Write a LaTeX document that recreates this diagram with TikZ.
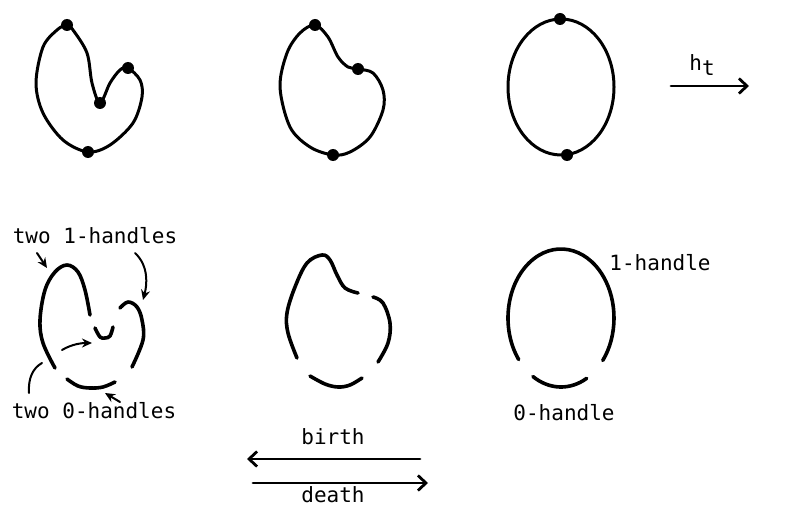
\documentclass[tikz,border=0pt]{standalone}
\usepackage{fontspec}
\setmonofont{DejaVu Sans Mono}
\usetikzlibrary{arrows.meta}
\begin{document}
\begin{tikzpicture}[x=1pt, y=-1pt, line cap=round, line join=round,
  every node/.style={font=\fontsize{21}{25}\selectfont\ttfamily, inner sep=0pt},
  curve/.style={line width=3pt},
  piece/.style={line width=3.6pt},
  pointer/.style={line width=2pt, -{Stealth[length=10pt,width=9pt]}},
  flow/.style={line width=2.8pt, -{Straight Barb[length=8pt,width=15pt]}}]
\useasboundingbox (0,0) rectangle (803,508);
% top row: the three level curves
\draw[curve] plot[smooth cycle, tension=0.55] coordinates {(67,25) (73,30) (87,53) (92,83) (100,103) (110,83) (120,70) (128,68) (140,80) (142,97) (133,123) (110,145) (88,152) (63,140) (43,113) (36,83) (43,47) (57,30)};
\draw[curve] plot[smooth cycle, tension=0.55] coordinates {(315,25) (328,37) (338,57) (348,67) (358,69) (373,73) (383,90) (383,110) (370,137) (350,152) (333,155) (310,147) (290,127) (280,87) (287,53) (300,33)};
\draw[curve] (561,87) ellipse [x radius=53, y radius=68];
\foreach \p in {(67,25),(128,68),(100,103),(88,152),(315,25),(358,69),(333,155),(560,19),(567,155)}
  \fill \p circle[radius=6];
% h_t
\coordinate (htA) at (671,86);
\coordinate (htB) at (749,86);
\draw[flow] (htA) -- (htB);
\node (ht) at (702,65) {h\raisebox{-0.45ex}{t}};
% bottom left: two 1-handles, two 0-handles
\draw[piece] plot[smooth, tension=0.6] coordinates {(55,368) (43,343) (40,320) (45,290) (55,272) (67,265) (78,272) (85,290) (90,315)};
\draw[piece] plot[smooth, tension=0.6] coordinates {(120,308) (128,302) (137,307) (142,320) (143,340) (132,367)};
\draw[piece] plot[smooth, tension=0.6] coordinates {(95,328) (100,337) (105,338) (110,336) (113,327)};
\draw[piece] plot[smooth, tension=0.6] coordinates {(67,379) (78,386) (90,388) (103,387) (115,382)};
\node (twoone) at (95,236) {two 1-handles};
\node (twozero) at (94,411) {two 0-handles};
\coordinate (p1s) at (37,253);
\coordinate (p1e) at (47,268);
\coordinate (p2s) at (135,253);
\coordinate (p2e) at (143,300);
\coordinate (p3s) at (62,350);
\coordinate (p3e) at (92,343);
\coordinate (p4s) at (120,402);
\coordinate (p4e) at (105,393);
\coordinate (p5s) at (29,393);
\coordinate (p5e) at (42,363);
\draw[pointer] (p1s) -- (p1e);
\draw[pointer] (p2s) .. controls (149,266) and (147,285) .. (p2e);
\draw[pointer] (p3s) .. controls (72,344) and (82,343) .. (p3e);
\draw[pointer] (p4s) -- (p4e);
\draw[line width=2pt] (p5s) .. controls (28,378) and (33,368) .. (p5e);
% bottom middle
\draw[piece] plot[smooth, tension=0.6] coordinates {(297,358) (288,333) (287,313) (295,287) (307,263) (322,255) (330,260) (337,275) (345,288) (358,293)};
\draw[piece] plot[smooth, tension=0.6] coordinates {(373,297) (383,303) (390,323) (388,343) (378,362)};
\draw[piece] plot[smooth, tension=0.6] coordinates {(310,376) (325,384) (338,387) (350,385) (362,378)};
% bottom right: 1-handle, 0-handle
\draw[piece] ([shift={(143:53 and 69)}]561,318) arc[start angle=143, end angle=398, x radius=53, y radius=69];
\draw[piece] ([shift={(122:53 and 69)}]561,318) arc[start angle=122, end angle=61, x radius=53, y radius=69];
\node (onehandle) at (660,263) {1-handle};
\node (zerohandle) at (564,413) {0-handle};
% birth / death
\node (birth) at (333,437) {birth};
\node (death) at (333,495) {death};
\coordinate (bA) at (420,459);
\coordinate (bB) at (247,459);
\coordinate (dA) at (253,483);
\coordinate (dB) at (428,483);
\draw[flow] (bA) -- (bB);
\draw[flow] (dA) -- (dB);
\end{tikzpicture}
\end{document}
